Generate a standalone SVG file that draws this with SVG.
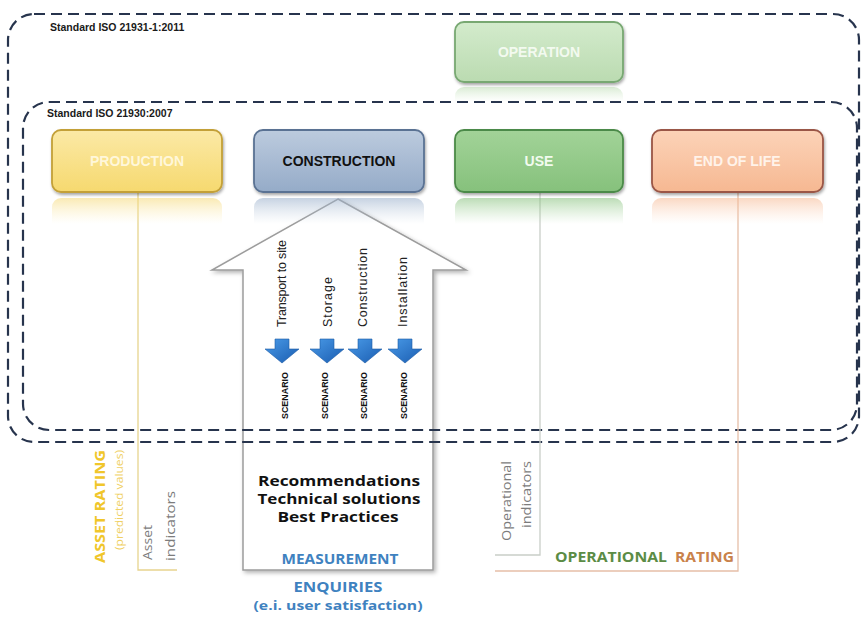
<svg xmlns="http://www.w3.org/2000/svg" width="862" height="619" viewBox="0 0 862 619">
<defs>
<style>
.frame{fill:none;stroke:#27344d;stroke-width:2.2;stroke-dasharray:11 6;}
.std{font-family:"Liberation Sans",Arial,sans-serif;font-size:10.5px;font-weight:bold;fill:#1a1a1a;}
.box{stroke-width:1.8;filter:url(#shadow);}
.lbl{font-family:"Liberation Sans",Arial,sans-serif;font-size:14px;font-weight:bold;text-anchor:middle;}
.step{font-family:"Liberation Sans",Arial,sans-serif;font-size:12.5px;fill:#222;}
.scn{font-family:"Liberation Sans",Arial,sans-serif;font-size:8.5px;font-weight:bold;fill:#111;}
.body{font-family:"Open Sans","Liberation Sans",sans-serif;font-weight:bold;text-anchor:middle;}
.ind{font-family:"Open Sans","Liberation Sans",sans-serif;font-size:13px;fill:#7c7c7c;}
.conn{fill:none;stroke-width:1.3;}
.blue{fill:url(#gBlue);stroke:#1b5aa6;stroke-width:0.6;}
</style>
<filter id="shadow" x="-10%" y="-10%" width="120%" height="140%">
<feDropShadow dx="1" dy="2" stdDeviation="1.5" flood-color="#000" flood-opacity="0.35"/>
</filter>
<filter id="soft" x="-10%" y="-10%" width="120%" height="120%">
<feDropShadow dx="2" dy="2" stdDeviation="2" flood-color="#000" flood-opacity="0.3"/>
</filter>
<linearGradient id="gYel" x1="0" y1="0" x2="0" y2="1"><stop offset="0" stop-color="#fbe9a6"/><stop offset="1" stop-color="#f6d96f"/></linearGradient>
<linearGradient id="gBlu" x1="0" y1="0" x2="0" y2="1"><stop offset="0" stop-color="#bccbde"/><stop offset="1" stop-color="#95abc8"/></linearGradient>
<linearGradient id="gGrn" x1="0" y1="0" x2="0" y2="1"><stop offset="0" stop-color="#a2d398"/><stop offset="1" stop-color="#86c17c"/></linearGradient>
<linearGradient id="gLgr" x1="0" y1="0" x2="0" y2="1"><stop offset="0" stop-color="#d3ebcc"/><stop offset="1" stop-color="#bbdbb1"/></linearGradient>
<linearGradient id="gPch" x1="0" y1="0" x2="0" y2="1"><stop offset="0" stop-color="#fcd3b8"/><stop offset="1" stop-color="#f6b892"/></linearGradient>
<linearGradient id="rYel" x1="0" y1="0" x2="0" y2="1"><stop offset="0" stop-color="#f5d875" stop-opacity="0.55"/><stop offset="1" stop-color="#fcecb2" stop-opacity="0"/></linearGradient>
<linearGradient id="rBlu" x1="0" y1="0" x2="0" y2="1"><stop offset="0" stop-color="#97adc9" stop-opacity="0.55"/><stop offset="1" stop-color="#c0cfe0" stop-opacity="0"/></linearGradient>
<linearGradient id="rGrn" x1="0" y1="0" x2="0" y2="1"><stop offset="0" stop-color="#85c07b" stop-opacity="0.55"/><stop offset="1" stop-color="#a8d69f" stop-opacity="0"/></linearGradient>
<linearGradient id="rLgr" x1="0" y1="0" x2="0" y2="1"><stop offset="0" stop-color="#bbdbb1" stop-opacity="0.55"/><stop offset="1" stop-color="#d3ebcc" stop-opacity="0"/></linearGradient>
<linearGradient id="rPch" x1="0" y1="0" x2="0" y2="1"><stop offset="0" stop-color="#f6b892" stop-opacity="0.55"/><stop offset="1" stop-color="#fcd5bb" stop-opacity="0"/></linearGradient>
<linearGradient id="gBlue" x1="0" y1="0" x2="1" y2="1"><stop offset="0" stop-color="#4a9be8"/><stop offset="1" stop-color="#1a5cb0"/></linearGradient>
</defs>

<rect width="862" height="619" fill="#ffffff"/>

<!-- big up-arrow carrying the construction stages -->
<g id="construction-arrow">
<polygon points="338,199 466,270 433,270 433,570 243,570 243,270 212,270" fill="#ffffff" stroke="#9c9c9c" stroke-width="1.5" filter="url(#soft)"/>
<text class="step" transform="translate(286,327) rotate(-90)" textLength="87">Transport to site</text>
<text class="step" transform="translate(332,327) rotate(-90)" textLength="50">Storage</text>
<text class="step" transform="translate(367,327) rotate(-90)" textLength="79">Construction</text>
<text class="step" transform="translate(407,327) rotate(-90)" textLength="70">Installation</text>
<path class="blue" d="M275,339 H289 V349 H299 L282,363 L265,349 H275 Z"/>
<path class="blue" d="M320,339 H334 V349 H344 L327,363 L310,349 H320 Z"/>
<path class="blue" d="M358,339 H372 V349 H382 L365,363 L348,349 H358 Z"/>
<path class="blue" d="M398,339 H412 V349 H422 L405,363 L388,349 H398 Z"/>
<text class="scn" transform="translate(288,419) rotate(-90)" textLength="47" lengthAdjust="spacingAndGlyphs">SCENARIO</text>
<text class="scn" transform="translate(328,419) rotate(-90)" textLength="47" lengthAdjust="spacingAndGlyphs">SCENARIO</text>
<text class="scn" transform="translate(367,419) rotate(-90)" textLength="47" lengthAdjust="spacingAndGlyphs">SCENARIO</text>
<text class="scn" transform="translate(407,419) rotate(-90)" textLength="47" lengthAdjust="spacingAndGlyphs">SCENARIO</text>
<text class="body" x="339" y="486" font-size="14" fill="#111" textLength="162" lengthAdjust="spacingAndGlyphs">Recommendations</text>
<text class="body" x="339" y="504" font-size="14" fill="#111" textLength="163" lengthAdjust="spacingAndGlyphs">Technical solutions</text>
<text class="body" x="338" y="522" font-size="14" fill="#111" textLength="121" lengthAdjust="spacingAndGlyphs">Best Practices</text>
<text class="body" x="340" y="564" font-size="15" fill="#3f82c0" textLength="117" lengthAdjust="spacingAndGlyphs">MEASUREMENT</text>
</g>

<!-- standard frames -->
<g id="frame-iso-21931">
<rect class="frame" x="8" y="14" width="851" height="428" rx="26"/>
<text class="std" x="50" y="31">Standard ISO 21931-1:2011</text>
</g>
<g id="frame-iso-21930">
<rect class="frame" x="23" y="102" width="834" height="328" rx="26"/>
<text class="std" x="47" y="117">Standard ISO 21930:2007</text>
</g>

<!-- connectors from the stages down to the ratings -->
<g id="connectors">
<path class="conn" d="M138,193 V570 H177" stroke="#e7d48e"/>
<path class="conn" d="M540,193 V555 H495" stroke="#c9cec8"/>
<path class="conn" d="M738,193 V571 H495" stroke="#e6bfa8"/>
</g>

<!-- stage nodes -->
<g id="node-operation">
<path d="M455,102 V96 a9,9 0 0 1 9,-9 H614 a9,9 0 0 1 9,9 V102 Z" fill="url(#rLgr)"/>
<rect class="box" x="455" y="22" width="168" height="60" rx="9" fill="url(#gLgr)" stroke="#78a872"/>
<text class="lbl" x="539" y="57" fill="#f3faf0">OPERATION</text>
</g>
<g id="node-production">
<path d="M52,224 V207 a9,9 0 0 1 9,-9 H213 a9,9 0 0 1 9,9 V224 Z" fill="url(#rYel)"/>
<rect class="box" x="52" y="130" width="170" height="62" rx="9" fill="url(#gYel)" stroke="#c3a038"/>
<text class="lbl" x="137" y="166" fill="#fff7da">PRODUCTION</text>
</g>
<g id="node-construction">
<path d="M254,224 V207 a9,9 0 0 1 9,-9 H415 a9,9 0 0 1 9,9 V224 Z" fill="url(#rBlu)"/>
<rect class="box" x="254" y="130" width="170" height="62" rx="9" fill="url(#gBlu)" stroke="#5a7293"/>
<text class="lbl" x="339" y="166" fill="#111">CONSTRUCTION</text>
</g>
<g id="node-use">
<path d="M455,224 V207 a9,9 0 0 1 9,-9 H614 a9,9 0 0 1 9,9 V224 Z" fill="url(#rGrn)"/>
<rect class="box" x="455" y="130" width="168" height="62" rx="9" fill="url(#gGrn)" stroke="#4c8a48"/>
<text class="lbl" x="539" y="166" fill="#f2fbef">USE</text>
</g>
<g id="node-end-of-life">
<path d="M652,224 V207 a9,9 0 0 1 9,-9 H814 a9,9 0 0 1 9,9 V224 Z" fill="url(#rPch)"/>
<rect class="box" x="652" y="130" width="171" height="62" rx="9" fill="url(#gPch)" stroke="#9a5646"/>
<text class="lbl" x="737" y="166" fill="#fff3ea">END OF LIFE</text>
</g>

<!-- rating labels -->
<g id="asset-rating">
<text class="body" transform="translate(105,563) rotate(-90)" font-size="15" fill="#f0c62a" style="text-anchor:start" textLength="113" lengthAdjust="spacingAndGlyphs">ASSET RATING</text>
<text transform="translate(123,550) rotate(-90)" font-family="'Open Sans','Liberation Sans',sans-serif" font-size="10.5" fill="#efd064" textLength="100" lengthAdjust="spacingAndGlyphs">(predicted values)</text>
<text class="ind" transform="translate(152,560) rotate(-90)" textLength="35" lengthAdjust="spacingAndGlyphs">Asset</text>
<text class="ind" transform="translate(175,561) rotate(-90)" textLength="70" lengthAdjust="spacingAndGlyphs">indicators</text>
</g>
<g id="operational-rating">
<text class="ind" transform="translate(511,461) rotate(-90)" text-anchor="end" textLength="80" lengthAdjust="spacingAndGlyphs">Operational</text>
<text class="ind" transform="translate(531,461) rotate(-90)" text-anchor="end" textLength="67" lengthAdjust="spacingAndGlyphs">indicators</text>
<text x="555" y="562" font-family="'Open Sans','Liberation Sans',sans-serif" font-weight="bold" font-size="15"><tspan fill="#5b8c45" textLength="112" lengthAdjust="spacingAndGlyphs">OPERATIONAL</tspan><tspan x="675" fill="#c9824b" textLength="59" lengthAdjust="spacingAndGlyphs">RATING</tspan></text>
</g>
<g id="enquiries">
<text class="body" x="338" y="592" font-size="14" fill="#3f82c0" textLength="89" lengthAdjust="spacingAndGlyphs">ENQUIRIES</text>
<text class="body" x="338" y="610" font-size="13" fill="#3f82c0" textLength="169" lengthAdjust="spacingAndGlyphs">(e.i. user satisfaction)</text>
</g>
</svg>
